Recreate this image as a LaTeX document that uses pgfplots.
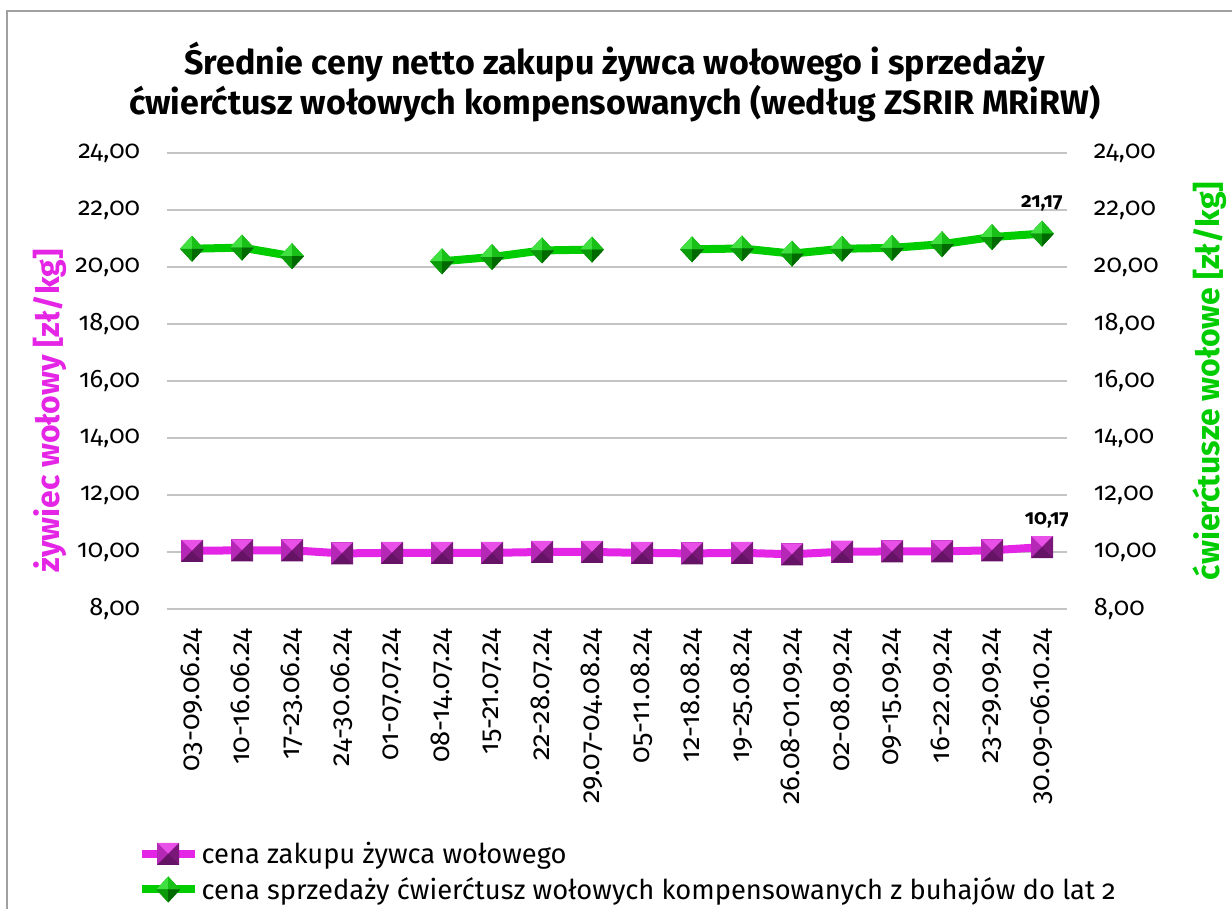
\documentclass[border=0pt]{standalone}
\usepackage{pgfplots}
\pgfplotsset{compat=1.18}
\usepackage{fontspec}
\setmainfont{Fira Sans}[Numbers=OldStyle]
\definecolor{mag}{HTML}{E525E5}
\definecolor{grn}{HTML}{00CC00}
\definecolor{sqT}{HTML}{E850E8}
\definecolor{sqL}{HTML}{B528B5}
\definecolor{sqR}{HTML}{7A187A}
\definecolor{sqB}{HTML}{651465}
\definecolor{sqM}{HTML}{A020A0}
\definecolor{dTL}{HTML}{40E040}
\definecolor{dTR}{HTML}{18C018}
\definecolor{dBL}{HTML}{0A9A0A}
\definecolor{dBR}{HTML}{006A00}
\definecolor{dM}{HTML}{10A010}
\definecolor{gridc}{HTML}{C4C4C4}
\definecolor{framec}{HTML}{A0A0A0}
\pgfdeclareplotmark{pyrsq}{%
  \pgfpathrectanglecorners{\pgfqpoint{-\pgfplotmarksize}{-\pgfplotmarksize}}{\pgfqpoint{\pgfplotmarksize}{\pgfplotmarksize}}%
  \pgfsetfillcolor{sqM}\pgfusepath{fill}%
  \pgfpathmoveto{\pgfqpoint{-\pgfplotmarksize}{\pgfplotmarksize}}%
  \pgfpathlineto{\pgfqpoint{\pgfplotmarksize}{\pgfplotmarksize}}%
  \pgfpathlineto{\pgfpointorigin}\pgfpathclose
  \pgfsetfillcolor{sqT}\pgfusepath{fill}%
  \pgfpathmoveto{\pgfqpoint{-\pgfplotmarksize}{\pgfplotmarksize}}%
  \pgfpathlineto{\pgfqpoint{-\pgfplotmarksize}{-\pgfplotmarksize}}%
  \pgfpathlineto{\pgfpointorigin}\pgfpathclose
  \pgfsetfillcolor{sqL}\pgfusepath{fill}%
  \pgfpathmoveto{\pgfqpoint{\pgfplotmarksize}{\pgfplotmarksize}}%
  \pgfpathlineto{\pgfqpoint{\pgfplotmarksize}{-\pgfplotmarksize}}%
  \pgfpathlineto{\pgfpointorigin}\pgfpathclose
  \pgfsetfillcolor{sqR}\pgfusepath{fill}%
  \pgfpathmoveto{\pgfqpoint{-\pgfplotmarksize}{-\pgfplotmarksize}}%
  \pgfpathlineto{\pgfqpoint{\pgfplotmarksize}{-\pgfplotmarksize}}%
  \pgfpathlineto{\pgfpointorigin}\pgfpathclose
  \pgfsetfillcolor{sqB}\pgfusepath{fill}%
}
\pgfdeclareplotmark{pyrdia}{%
  \pgfpathmoveto{\pgfqpoint{0pt}{\pgfplotmarksize}}%
  \pgfpathlineto{\pgfqpoint{0.92\pgfplotmarksize}{0pt}}%
  \pgfpathlineto{\pgfqpoint{0pt}{-\pgfplotmarksize}}%
  \pgfpathlineto{\pgfqpoint{-0.92\pgfplotmarksize}{0pt}}\pgfpathclose
  \pgfsetfillcolor{dM}\pgfusepath{fill}%
  \pgfpathmoveto{\pgfqpoint{0pt}{\pgfplotmarksize}}%
  \pgfpathlineto{\pgfqpoint{-0.92\pgfplotmarksize}{0pt}}%
  \pgfpathlineto{\pgfpointorigin}\pgfpathclose
  \pgfsetfillcolor{dTL}\pgfusepath{fill}%
  \pgfpathmoveto{\pgfqpoint{0pt}{\pgfplotmarksize}}%
  \pgfpathlineto{\pgfqpoint{0.92\pgfplotmarksize}{0pt}}%
  \pgfpathlineto{\pgfpointorigin}\pgfpathclose
  \pgfsetfillcolor{dTR}\pgfusepath{fill}%
  \pgfpathmoveto{\pgfqpoint{0pt}{-\pgfplotmarksize}}%
  \pgfpathlineto{\pgfqpoint{-0.92\pgfplotmarksize}{0pt}}%
  \pgfpathlineto{\pgfpointorigin}\pgfpathclose
  \pgfsetfillcolor{dBL}\pgfusepath{fill}%
  \pgfpathmoveto{\pgfqpoint{0pt}{-\pgfplotmarksize}}%
  \pgfpathlineto{\pgfqpoint{0.92\pgfplotmarksize}{0pt}}%
  \pgfpathlineto{\pgfpointorigin}\pgfpathclose
  \pgfsetfillcolor{dBR}\pgfusepath{fill}%
}
\pgfplotstableread{
x zywiec cwierc
0 10.04 20.64
1 10.06 20.68
2 10.06 20.38
3 9.95 nan
4 9.97 nan
5 9.97 20.20
6 9.97 20.35
7 10.00 20.58
8 10.00 20.61
9 9.97 nan
10 9.95 20.62
11 9.97 20.65
12 9.92 20.47
13 10.01 20.64
14 10.02 20.67
15 10.02 20.80
16 10.06 21.05
17 10.17 21.17
}\datatable
\newcommand{\tickfont}{\fontsize{19}{22}\selectfont}
\newcommand{\xtickfont}{\fontsize{20.5}{24}\selectfont}
\begin{document}
\begin{tikzpicture}
\useasboundingbox (0,0) rectangle (924pt,681.75pt);
\draw[framec, line width=1.2pt] (5.25pt,0pt) -- (5.25pt,673.5pt) -- (930pt,673.5pt);
\node[font=\bfseries\fontsize{25.5}{30}\selectfont] at (461pt,635.25pt) {Średnie ceny netto zakupu żywca wołowego i sprzedaży};
\node[font=\bfseries\fontsize{25.5}{30}\selectfont] at (461pt,603.75pt) {ćwierćtusz wołowych kompensowanych (według ZSRIR MRiRW)};
\node[rotate=90, font=\bfseries\fontsize{24}{28}\selectfont, text=mag] at (37.5pt,373.5pt) {żywiec wołowy [zł/kg]};
\node[rotate=90, font=\bfseries\fontsize{24}{28}\selectfont, text=grn] at (907.5pt,396pt) {ćwierćtusze wołowe [zł/kg]};
\begin{axis}[
  at={(125.25pt,225pt)}, anchor=south west, scale only axis,
  width=675pt, height=342pt,
  xmin=-0.5, xmax=17.5, ymin=8, ymax=24,
  xtick={0,...,17},
  xticklabels={03-09.06.24,10-16.06.24,17-23.06.24,24-30.06.24,01-07.07.24,08-14.07.24,15-21.07.24,22-28.07.24,29.07-04.08.24,05-11.08.24,12-18.08.24,19-25.08.24,26.08-01.09.24,02-08.09.24,09-15.09.24,16-22.09.24,23-29.09.24,30.09-06.10.24},
  x tick label style={rotate=90, anchor=east, inner sep=0pt, font=\xtickfont},
  xticklabel shift=15pt,
  ytick={8,10,...,24},
  y tick label style={anchor=east, inner sep=0pt, font=\tickfont},
  yticklabel shift=20pt,
  /pgf/number format/.cd, fixed, fixed zerofill, precision=2, use comma, 1000 sep={}, assume math mode=true,
  /pgfplots/.cd,
  ymajorgrids, grid style={gridc, line width=1.3pt},
  axis line style={draw=none}, major tick length=0pt,
  unbounded coords=jump,
  legend style={at={(-0.033,-0.505)}, anchor=north west, draw=none, fill=none,
     font=\fontsize{20.5}{23.5}\selectfont, row sep=5pt, inner sep=0pt},
  legend cell align=left,
  legend image code/.code={\draw[mark repeat=2,mark phase=2,#1] plot coordinates {(0pt,0pt) (20pt,0pt) (40pt,0pt)};},
]
\addplot[mag, line width=6pt, mark=pyrsq, mark size=8.25pt] table[x=x, y=zywiec] {\datatable};
\addlegendentry{cena zakupu żywca wołowego}
\addplot[grn, line width=6pt, mark=pyrdia, mark size=9.75pt] table[x=x, y=cwierc] {\datatable};
\addlegendentry{cena sprzedaży ćwierćtusz wołowych kompensowanych z buhajów do lat 2}
\node[font=\bfseries\fontsize{15.5}{18}\selectfont, anchor=south] at (axis cs:17,21.17) [yshift=13pt] {21,17};
\node[font=\bfseries\fontsize{15.5}{18}\selectfont, anchor=south] at (axis cs:17.1,10.17) [yshift=11pt] {10,17};
\end{axis}
\begin{axis}[
  at={(125.25pt,225pt)}, anchor=south west, scale only axis,
  width=675pt, height=342pt,
  xmin=-0.5, xmax=17.5, ymin=8, ymax=24,
  axis y line*=right, hide x axis,
  ytick={8,10,...,24},
  y tick label style={anchor=west, inner sep=0pt, font=\tickfont},
  yticklabel shift=20pt,
  /pgf/number format/.cd, fixed, fixed zerofill, precision=2, use comma, 1000 sep={}, assume math mode=true,
  /pgfplots/.cd,
  axis line style={draw=none}, major tick length=0pt,
]
\addplot[draw=none, forget plot] coordinates {(0,8)};
\end{axis}
\end{tikzpicture}
\end{document}
